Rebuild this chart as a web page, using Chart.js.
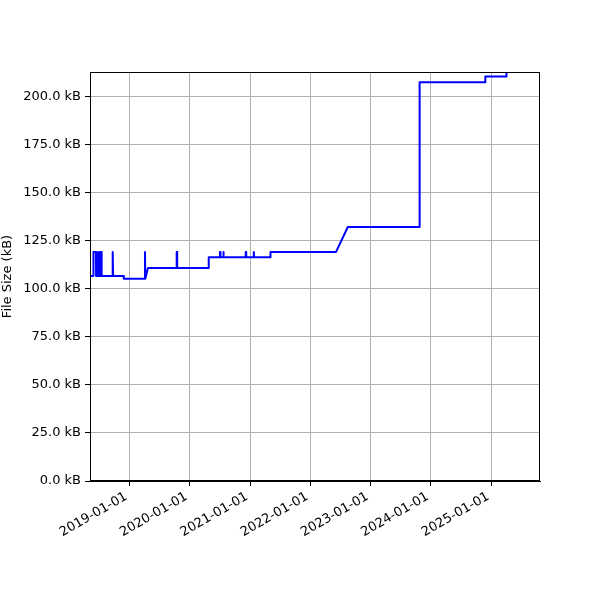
<!DOCTYPE html>
<html>
<head>
<meta charset="utf-8">
<script src="https://cdn.jsdelivr.net/npm/chart.js@4.4.1/dist/chart.umd.min.js"></script>
<style>
  html, body { margin: 0; padding: 0; background: #fff; }
  #wrap { width: 600px; height: 600px; }
</style>
</head>
<body>
<div id="wrap"><canvas id="c" width="600" height="600"></canvas></div>
<script>
// ---- data ----
const dates = [
  '2018-05-08','2018-05-28','2018-05-29','2018-06-13','2018-06-14','2018-06-21','2018-06-22',
  '2018-06-25','2018-06-26','2018-07-04','2018-07-05','2018-07-08','2018-07-09','2018-07-13',
  '2018-07-14','2018-07-17','2018-07-18',
  '2018-09-20','2018-09-21','2018-09-24','2018-09-25',
  '2018-11-28','2018-11-29',
  '2019-04-05','2019-04-06','2019-04-08','2019-04-12','2019-04-24',
  '2019-10-14','2019-10-15','2019-10-17','2019-10-18',
  '2020-04-25','2020-04-26',
  '2020-07-02','2020-07-03','2020-07-05','2020-07-06',
  '2020-07-22','2020-07-23','2020-07-25','2020-07-26',
  '2020-12-05','2020-12-06','2020-12-08','2020-12-09',
  '2021-01-22','2021-01-23','2021-01-25','2021-01-26',
  '2021-05-04','2021-05-05',
  '2022-06-06','2022-08-16',
  '2023-10-23','2023-10-25',
  '2024-11-24','2024-11-26',
  '2025-04-01','2025-04-03'
];
const sizesKB = [
  106.8,106.8,119.3,119.3,106.8,106.8,119.3,
  119.3,106.8,106.8,119.3,119.3,106.8,106.8,
  119.3,119.3,106.8,
  106.8,119.3,119.3,106.8,
  106.8,105.3,
  105.3,119.3,105.3,105.3,110.9,
  110.9,119.3,119.3,110.9,
  110.9,116.5,
  116.5,119.3,119.3,116.5,
  116.5,119.3,119.3,116.5,
  116.5,119.3,119.3,116.5,
  116.5,119.3,119.3,116.5,
  116.5,119.3,
  119.3,132.3,
  132.3,207.6,
  207.6,210.7,
  210.7,215.0
];
const xTickDates = ['2019-01-01','2020-01-01','2021-01-01','2022-01-01','2023-01-01','2024-01-01','2025-01-01'];
const yTickValues = [0,25,50,75,100,125,150,175,200];
const xRange = ['2018-05-08','2025-10-23'];
const yRange = [0, 213];

// ---- helpers ----
const toMs = s => Date.parse(s + 'T00:00:00Z');
const pad2 = n => String(n).padStart(2,'0');
const fmtDate = ms => { const d = new Date(ms); return d.getUTCFullYear() + '-' + pad2(d.getUTCMonth()+1) + '-' + pad2(d.getUTCDate()); };
const points = dates.map((d,i) => ({x: toMs(d), y: sizesKB[i]}));

const FONT = { family: '"DejaVu Sans", sans-serif', size: 13 };

const frame = {
  id: 'frame',
  afterDraw(chart) {
    const a = chart.chartArea, ctx = chart.ctx;
    ctx.save();
    ctx.strokeStyle = '#000';
    ctx.lineWidth = 1;
    ctx.strokeRect(Math.round(a.left)+0.5, Math.round(a.top)+0.5, Math.round(a.right-a.left)-1, Math.round(a.bottom-a.top)-1);
    ctx.restore();
  }
};

new Chart(document.getElementById('c'), {
  type: 'line',
  data: { datasets: [{ data: points, borderColor: '#0000ff', borderWidth: 2, borderJoinStyle: 'round', pointRadius: 0, tension: 0, fill: false }] },
  options: {
    responsive: false,
    animation: false,
    events: [],
    layout: { padding: { top: 72, right: 60, left: 0, bottom: 0 } },
    plugins: { legend: { display: false }, tooltip: { enabled: false } },
    scales: {
      x: {
        type: 'linear',
        min: toMs(xRange[0]), max: toMs(xRange[1]),
        afterBuildTicks: s => { s.ticks = xTickDates.map(d => ({ value: toMs(d) })); },
        afterFit: s => { s.height = 119; },
        ticks: { callback: v => fmtDate(v), minRotation: 30, maxRotation: 30, autoSkip: false, color: '#000', font: FONT, padding: 3, labelOffset: -3 },
        grid: { color: '#b0b0b0', lineWidth: 1, tickColor: '#000', tickLength: 5 },
        border: { color: '#000', width: 1 }
      },
      y: {
        type: 'linear',
        min: yRange[0], max: yRange[1],
        afterBuildTicks: s => { s.ticks = yTickValues.map(v => ({ value: v })); },
        afterFit: s => { s.width = 90; },
        ticks: { callback: v => v.toFixed(1) + ' kB', color: '#000', font: FONT, padding: 4 },
        grid: { color: '#b0b0b0', lineWidth: 1, tickColor: '#000', tickLength: 5 },
        border: { color: '#000', width: 1 },
        title: { display: true, text: 'File Size (kB)', color: '#000', font: FONT, padding: { top: 0, bottom: 0 } }
      }
    }
  },
  plugins: [frame]
});
</script>
</body>
</html>
